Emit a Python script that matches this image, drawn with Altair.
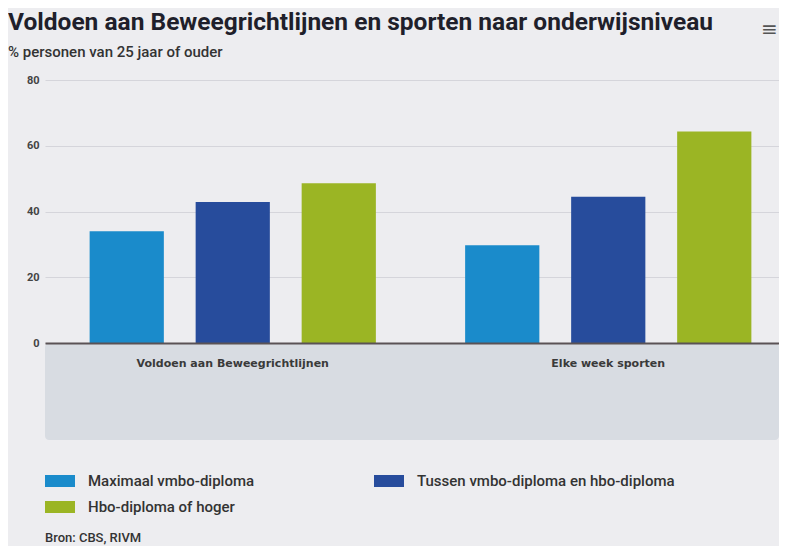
import altair as alt
import pandas as pd

categories = ["Voldoen aan Beweegrichtlijnen", "Elke week sporten"]
levels = ["Maximaal vmbo-diploma", "Tussen vmbo-diploma en hbo-diploma", "Hbo-diploma of hoger"]
legend_order = ["Maximaal vmbo-diploma", "Hbo-diploma of hoger", "Tussen vmbo-diploma en hbo-diploma"]
values_voldoen = [34.0, 42.9, 48.6]
values_sporten = [29.7, 44.5, 64.3]
colors = {"Maximaal vmbo-diploma": "#1a8bcb",
          "Tussen vmbo-diploma en hbo-diploma": "#274c9c",
          "Hbo-diploma of hoger": "#9bb524"}
y_ticks = [0, 20, 40, 60, 80]
title_text = "Voldoen aan Beweegrichtlijnen en sporten naar onderwijsniveau"
subtitle_text = "% personen van 25 jaar of ouder"
source_text = "Bron: CBS, RIVM"

rows = []
for lvl, v in zip(levels, values_voldoen):
    rows.append({"cat": categories[0], "niveau": lvl, "pct": v})
for lvl, v in zip(levels, values_sporten):
    rows.append({"cat": categories[1], "niveau": lvl, "pct": v})
df = pd.DataFrame(rows)

FONT = "Roboto"
W, H = 734, 263

band = alt.Chart(pd.DataFrame({"a": [0]})).mark_rect(
    color="#d8dce2", cornerRadius=4
).encode(
    x=alt.value(0), x2=alt.value(W), y=alt.value(H), y2=alt.value(H + 97)
)

bars = alt.Chart(df).mark_bar().encode(
    x=alt.X("cat:N", sort=categories, title=None,
            scale=alt.Scale(rangeMin=0, rangeMax=751, paddingInner=0, paddingOuter=0),
            axis=alt.Axis(labelAngle=0, ticks=False, tickSize=0, labelPadding=14,
                          labelFont="DejaVu Sans", labelFontSize=11, labelFontWeight="bold",
                          labelColor="#3a3a3a", labelLimit=400,
                          domainColor="#5a5255", domainWidth=2, zindex=1)),
    xOffset=alt.XOffset("niveau:N", sort=levels,
                        scale=alt.Scale(paddingInner=0.3, paddingOuter=0.421)),
    y=alt.Y("pct:Q", title=None, scale=alt.Scale(domain=[0, 80]),
            axis=alt.Axis(values=y_ticks, domain=False, ticks=False, labelPadding=6,
                          labelFont=FONT, labelFontSize=11, labelFontWeight="bold",
                          labelColor="#444444", gridColor="#d5d5db", gridWidth=1)),
    color=alt.Color("niveau:N",
                    scale=alt.Scale(domain=legend_order, range=[colors[k] for k in legend_order]),
                    legend=alt.Legend(title=None, orient="none", legendX=0, legendY=386,
                                      columns=2, columnPadding=119, rowPadding=3,
                                      symbolType="M-1,-0.4H1V0.4H-1Z", symbolSize=900,
                                      symbolStrokeWidth=0, labelOffset=13,
                                      labelFont=FONT, labelFontSize=15, labelFontWeight=500,
                                      labelColor="#333333", labelLimit=400)),
)

def label(text, x, y, size, weight, color, font=FONT, baseline="alphabetic"):
    return alt.Chart(pd.DataFrame({"t": [text]})).mark_text(
        align="left", baseline=baseline, font=font, fontSize=size,
        fontWeight=weight, color=color
    ).encode(x=alt.value(x), y=alt.value(y), text="t:N")

title = label(title_text, -37, -50, 24.5, "bold", "#1f1f2b")
subtitle = label(subtitle_text, -37, -23, 15, 500, "#333333")
source = label(source_text, 0, 458, 13, 500, "#333333", baseline="middle")
menu = label("≡", 716, -50, 20, "normal", "#555555", font="DejaVu Sans", baseline="middle")

chart = alt.layer(band, bars, title, subtitle, source, menu).properties(
    width=W, height=H,
    autosize=alt.AutoSizeParams(type="none"),
    padding={"left": 37, "top": 72, "right": 0, "bottom": 203},
    background="#ededf0",
).configure_view(stroke=None)

chart.save("out.html", embed_options={"renderer": "svg", "actions": False})
